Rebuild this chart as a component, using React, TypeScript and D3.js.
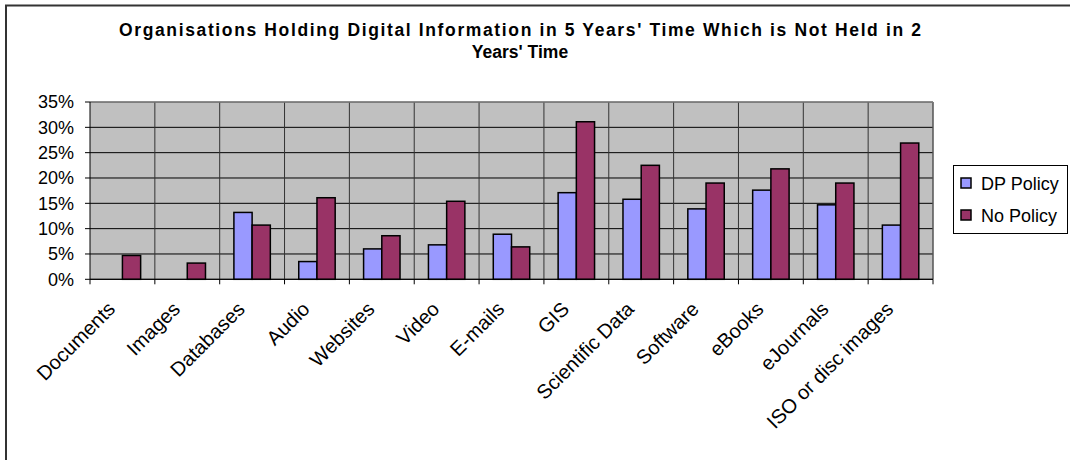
import React from "react";
import * as d3 from "d3";

const categories = ["Documents", "Images", "Databases", "Audio", "Websites", "Video", "E-mails", "GIS", "Scientific Data", "Software", "eBooks", "eJournals", "ISO or disc images"];
const dpPolicy = [0, 0, 13.2, 3.5, 6.0, 6.8, 8.9, 17.1, 15.8, 13.9, 17.6, 14.7, 10.7];
const noPolicy = [4.7, 3.2, 10.7, 16.1, 8.6, 15.4, 6.4, 31.1, 22.5, 19.0, 21.8, 19.0, 26.9];
const yTicks = [0, 5, 10, 15, 20, 25, 30, 35];
const seriesNames = ["DP Policy", "No Policy"];
const seriesColors = ["#9999FF", "#993366"];
const titleLines = ["Organisations Holding Digital Information in 5 Years' Time Which is Not Held in 2", "Years' Time"];

export default function App() {
  const W = 1070, H = 460;
  const left = 90, right = 933, top = 102, bottom = 279.3;
  const x = d3.scaleBand<string>().domain(categories).range([left, right]).paddingInner(0).paddingOuter(0);
  const inner = d3.scaleBand<string>().domain(seriesNames).range([0, x.bandwidth()]).paddingInner(0).paddingOuter(0.78);
  const y = d3.scaleLinear().domain([0, 35]).range([bottom, top]);
  const font = "'Liberation Sans', Arial, sans-serif";
  const series = [dpPolicy, noPolicy];

  return (
    <svg width={W} height={H} style={{ position: "absolute", left: 0, top: 0, background: "#fff" }} fontFamily={font}>
      <rect x={0} y={0} width={W} height={H} fill="#fff" />
      <path d={`M6,${H + 5} V5.5 H${W + 5}`} fill="none" stroke="#333" strokeWidth={2} />
      <text x={119} y={36} fontWeight="bold" fontSize={17.5} textLength={802} lengthAdjust="spacing">{titleLines[0]}</text>
      <text x={520} y={58} textAnchor="middle" fontWeight="bold" fontSize={17.5}>{titleLines[1]}</text>
      <rect x={left} y={top} width={right - left} height={bottom - top} fill="#C0C0C0" />
      {yTicks.map((t) => (
        <line key={"g" + t} x1={left} x2={right} y1={y(t)} y2={y(t)} stroke="#000" strokeWidth={1} />
      ))}
      {categories.slice(1).map((c) => (
        <line key={"v" + c} x1={x(c)!} x2={x(c)!} y1={top} y2={bottom} stroke="#333" strokeWidth={1} />
      ))}
      <line x1={right} x2={right} y1={top} y2={bottom} stroke="#555" strokeWidth={1.5} />
      <line x1={left} x2={right} y1={top} y2={top} stroke="#999" strokeWidth={1} />
      {categories.map((c, ci) =>
        series.map((s, si) =>
          s[ci] > 0 ? (
            <rect key={c + si} x={x(c)! + inner(seriesNames[si])!} y={y(s[ci])} width={inner.bandwidth()} height={y(0) - y(s[ci])}
              fill={seriesColors[si]} stroke="#000" strokeWidth={1.5} />
          ) : null
        )
      )}
      <line x1={left} x2={left} y1={top} y2={bottom} stroke="#000" strokeWidth={1} />
      <line x1={left} x2={right} y1={bottom} y2={bottom} stroke="#000" strokeWidth={1} />
      {yTicks.map((t) => (
        <g key={"yt" + t}>
          <line x1={left - 5} x2={left} y1={y(t)} y2={y(t)} stroke="#000" />
          <text x={74} y={y(t)} dy="0.36em" textAnchor="end" fontSize={18}>{t}%</text>
        </g>
      ))}
      {[...categories.map((c) => x(c)!), right].map((px, i) => (
        <line key={"xt" + i} x1={px} x2={px} y1={bottom} y2={bottom + 5} stroke="#000" />
      ))}
      {categories.map((c) => {
        const cx = x(c)! + x.bandwidth() / 2;
        const ax = cx - 6, ay = bottom + 31;
        return (
          <text key={"xl" + c} x={ax} y={ay} transform={`rotate(-45 ${ax} ${ay})`} textAnchor="end" fontSize={20}>{c}</text>
        );
      })}
      <rect x={953.5} y={165.5} width={114} height={68} fill="#fff" stroke="#000" strokeWidth={1} />
      {seriesNames.map((n, i) => (
        <g key={n}>
          <rect x={961} y={178 + i * 32} width={10} height={10} fill={seriesColors[i]} stroke="#000" strokeWidth={1.5} />
          <text x={981} y={189.5 + i * 32} fontSize={18}>{n}</text>
        </g>
      ))}
    </svg>
  );
}
